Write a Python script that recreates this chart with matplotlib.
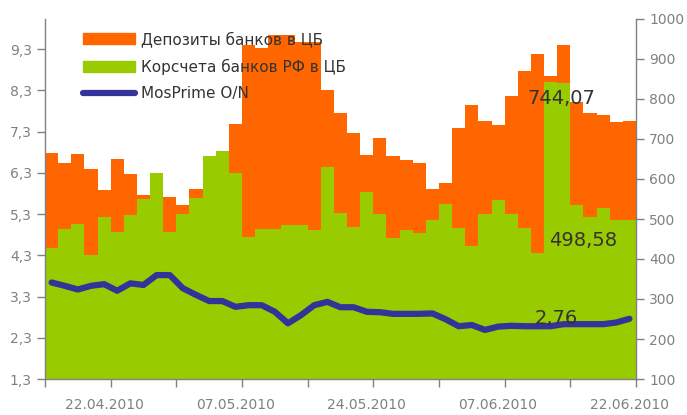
import numpy as np
import matplotlib
matplotlib.use("Agg")
import matplotlib.pyplot as plt
from matplotlib.patches import Patch
from matplotlib.lines import Line2D

# deposits of banks at CBR (orange), correspondent accounts (green), bn RUB
deposits = [666, 641, 662, 625, 572, 651, 612, 561, 590, 555, 536, 575,
            630, 645, 737, 935, 927, 960, 960, 942, 942, 822, 765, 715,
            660, 702, 657, 647, 640, 575, 590, 727, 785, 746, 735, 807,
            870, 912, 857, 935, 792, 765, 760, 742, 744.07]
korscheta = [428, 475, 488, 410, 505, 468, 510, 550, 615, 468, 513, 552,
             657, 670, 615, 456, 475, 475, 485, 485, 472, 630, 516, 480,
             567, 513, 453, 472, 466, 497, 538, 478, 433, 513, 547, 513,
             478, 416, 843, 841, 536, 506, 527, 497, 498.58]
# MosPrime O/N, %
mosprime = [3.64, 3.56, 3.47, 3.56, 3.60, 3.44, 3.62, 3.58, 3.82, 3.82, 3.50,
            3.34, 3.19, 3.19, 3.05, 3.09, 3.09, 2.93, 2.65, 2.85, 3.09, 3.17,
            3.04, 3.04, 2.93, 2.92, 2.88, 2.88, 2.88, 2.89, 2.75, 2.58, 2.61,
            2.49, 2.57, 2.59, 2.58, 2.58, 2.58, 2.63, 2.63, 2.63, 2.63, 2.67,
            2.76]
date_labels = ["22.04.2010", "07.05.2010", "24.05.2010", "07.06.2010", "22.06.2010"]
left_ticks = [1.3, 2.3, 3.3, 4.3, 5.3, 6.3, 7.3, 8.3, 9.3]
right_ticks = [100, 200, 300, 400, 500, 600, 700, 800, 900, 1000]

ORANGE = "#FF6600"
GREEN = "#99CC00"
BLUE = "#333399"
GREY = "#808080"
DARK = "#333333"

plt.rcParams['font.family'] = ['DejaVu Sans']

fig = plt.figure(figsize=(6.87, 4.15), dpi=100)
ax = fig.add_axes([45 / 687, 36 / 415, 591 / 687, 360 / 415])
ax2 = ax.twinx()

x = np.arange(len(deposits))
ax.bar(x, deposits, width=1.0, color=ORANGE, linewidth=0)
ax.bar(x, korscheta, width=1.0, color=GREEN, linewidth=0)
ax.set_ylim(100, 1000)
ax.set_xlim(-0.5, len(x) - 0.5)

ax2.plot(x, mosprime, color=BLUE, lw=4.5, solid_capstyle='round',
         solid_joinstyle='round')
ax2.set_ylim(1.3, 10.03)

# bars axis on the right, line axis on the left
ax.yaxis.tick_right()
ax.set_yticks(right_ticks)
ax.set_yticklabels([str(t) for t in right_ticks])
ax2.yaxis.tick_left()
ax2.set_yticks(left_ticks)
ax2.set_yticklabels([("%.1f" % t).replace(".", ",") for t in left_ticks])

bounds = np.arange(-0.5, len(x), 5)
ax.set_xticks(bounds)
ax.set_xticklabels([""] * len(bounds))
ax.set_xticks(bounds[1::2] - 0.5, minor=True)
ax.set_xticklabels(date_labels, minor=True)

for a in (ax, ax2):
    a.tick_params(colors=GREY, labelsize=10, length=6, width=1, direction='out')
    for s in a.spines.values():
        s.set_visible(False)
ax.tick_params(axis='x', which='minor', length=0, pad=14, labelcolor=GREY)
for side in ("left", "right", "bottom"):
    ax.spines[side].set_visible(True)
    ax.spines[side].set_color(GREY)
    ax.spines[side].set_linewidth(1)

# data labels
fig.text(561 / 687, 1 - 98 / 415, "744,07", fontsize=14, color=DARK,
         ha='center', va='center')
fig.text(583 / 687, 1 - 240 / 415, "498,58", fontsize=14, color=DARK,
         ha='center', va='center')
fig.text(556 / 687, 1 - 318 / 415, "2,76", fontsize=14, color=DARK,
         ha='center', va='center')

handles = [Patch(color=ORANGE), Patch(color=GREEN),
           Line2D([0], [0], color=BLUE, lw=4.5, solid_capstyle='round')]
labels = ["Депозиты банков в ЦБ", "Корсчета банков РФ в ЦБ", "MosPrime O/N"]
fig.legend(handles, labels, loc='upper left',
           bbox_to_anchor=(83 / 687, 1 - 31 / 415), frameon=False,
           fontsize=11, handlelength=3.4, handleheight=0.75,
           handletextpad=0.4, labelspacing=0.75, borderpad=0,
           borderaxespad=0, labelcolor=DARK)

fig.savefig("out.png", dpi=100)
